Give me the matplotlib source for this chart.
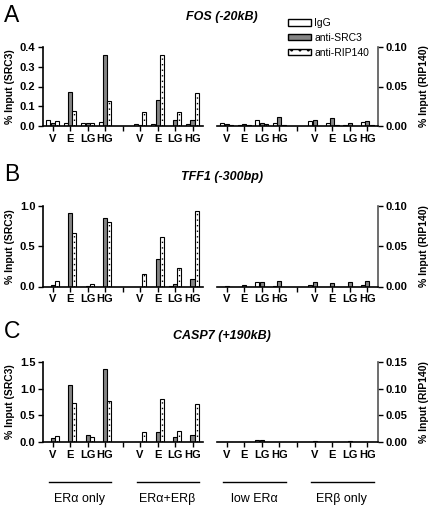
import numpy as np
import matplotlib.pyplot as plt
from matplotlib.patches import Patch
import matplotlib.transforms as mtransforms

plt.rcParams['font.family'] = ['Liberation Sans', 'DejaVu Sans']

treatments = ['V', 'E', 'LG', 'HG']
cell_lines = ['ER\u03b1 only', 'ER\u03b1+ER\u03b2', 'low ER\u03b1', 'ER\u03b2 only']

# values per cell line (ERa only, ERa+ERb, low ERa, ERb only) x treatment (V, E, LG, HG)
# first 8 read on left (SRC3) axis, last 8 on right (RIP140) axis
fos_igg = [0.028, 0.015, 0.017, 0.018, 0.010, 0.012, 0.002, 0.010,
           0.0035, 0.001, 0.0075, 0.004, 0.006, 0.004, 0.001, 0.005]
fos_src3 = [0.017, 0.170, 0.013, 0.357, 0.003, 0.132, 0.032, 0.032,
            0.002, 0.003, 0.004, 0.012, 0.007, 0.010, 0.004, 0.006]
fos_rip = [0.023, 0.077, 0.013, 0.128, 0.073, 0.362, 0.070, 0.165,
           0.001, 0.001, 0.002, 0.001, 0.0, 0.001, 0.0, 0.001]

tff1_igg = [0.0, 0.0, 0.0, 0.0, 0.0, 0.0, 0.005, 0.0,
            0.0, 0.0, 0.005, 0.001, 0.002, 0.0, 0.0, 0.002]
tff1_src3 = [0.020, 0.910, 0.012, 0.855, 0.0, 0.340, 0.033, 0.092,
             0.001, 0.002, 0.005, 0.007, 0.006, 0.004, 0.005, 0.007]
tff1_rip = [0.070, 0.660, 0.025, 0.800, 0.150, 0.620, 0.230, 0.940,
            0.0, 0.0, 0.0, 0.0, 0.0, 0.0, 0.0, 0.0]

casp7_igg = [0.0, 0.005, 0.0, 0.005, 0.0, 0.0, 0.0, 0.0,
             0.0, 0.0, 0.003, 0.0, 0.0, 0.0, 0.0, 0.0]
casp7_src3 = [0.070, 1.070, 0.140, 1.360, 0.0, 0.190, 0.090, 0.130,
              0.0, 0.0, 0.003, 0.0, 0.001, 0.0, 0.002, 0.0]
casp7_rip = [0.110, 0.740, 0.100, 0.760, 0.190, 0.810, 0.200, 0.710,
             0.0, 0.0, 0.0, 0.0, 0.0, 0.0, 0.0, 0.0]

panels = [
    ('A', 'FOS (-20kB)', fos_igg, fos_src3, fos_rip, [0, 0.1, 0.2, 0.3, 0.4], [0, 0.05, 0.10]),
    ('B', 'TFF1 (-300bp)', tff1_igg, tff1_src3, tff1_rip, [0, 0.5, 1.0], [0, 0.05, 0.10]),
    ('C', 'CASP7 (+190kB)', casp7_igg, casp7_src3, casp7_rip, [0, 0.5, 1.0, 1.5], [0, 0.05, 0.10, 0.15]),
]

W, H = 432, 508
fig = plt.figure(figsize=(W / 100, H / 100), dpi=100)

# top/bottom pixel rows of each panel
rows = [(47, 126), (206, 286.5), (362, 442)]
letter_y = [15, 174, 332]
title_y = [17, 177, 336]

xpos = np.array([0, 1, 2, 3, 5, 6, 7, 8])
bw = 0.23
off = 0.25
col_gray = '#858585'


def draw_bars(ax, igg, src3, rip):
    ax.bar(xpos - off, igg, bw, color='white', edgecolor='black', linewidth=0.8)
    ax.bar(xpos, src3, bw, color=col_gray, edgecolor='black', linewidth=0.8)
    ax.bar(xpos + off, rip, bw, color='white', edgecolor='black', linewidth=0.8)
    rip = np.array(rip)
    m = rip > 0
    ax.vlines(xpos[m] + off, 0, rip[m], colors='black', linewidth=1.0,
              linestyles=(0, (1, 3)))


def style_x(ax):
    ax.set_xlim(-0.55, 8.6)
    ax.set_xticks([0, 1, 2, 3, 4, 5, 6, 7, 8])
    ax.set_xticklabels(treatments + [''] + treatments, fontsize=8, fontweight='bold')
    ax.tick_params(axis='x', length=3.5, width=1, pad=2)


for i, (letter, title, igg, src3, rip, lt, rt) in enumerate(panels):
    top, bot = rows[i]
    y0 = 1 - bot / H
    h = (bot - top) / H
    axl = fig.add_axes([43 / W, y0, (203 - 43) / W, h])
    axr = fig.add_axes([217 / W, y0, (378 - 217) / W, h])

    draw_bars(axl, igg[:8], src3[:8], rip[:8])
    draw_bars(axr, igg[8:], src3[8:], rip[8:])

    for ax in (axl, axr):
        style_x(ax)
        for s in ax.spines.values():
            s.set_linewidth(1.2)
        ax.spines['top'].set_visible(False)

    axl.spines['right'].set_visible(False)
    axl.set_ylim(0, lt[-1])
    axl.set_yticks(lt)
    axl.set_yticklabels(['%.1f' % v for v in lt], fontsize=8, fontweight='bold')
    axl.tick_params(axis='y', length=3.5, width=1, pad=2)

    axr.spines['left'].set_visible(False)
    axr.spines['right'].set_color('#555555')
    axr.set_ylim(0, rt[-1])
    axr.yaxis.tick_right()
    axr.set_yticks(rt)
    axr.set_yticklabels(['%.2f' % v for v in rt], fontsize=8, fontweight='bold')
    axr.tick_params(axis='y', length=3.5, width=1, pad=2)

    yc = 1 - (top + bot) / 2 / H
    fig.text(10 / W, yc, '% Input (SRC3)', rotation=90, ha='center', va='center',
             fontsize=7.5, fontweight='bold')
    fig.text(424 / W, yc, '% Input (RIP140)', rotation=90, ha='center', va='center',
             fontsize=7.5, fontweight='bold')
    fig.text(4 / W, 1 - letter_y[i] / H, letter, fontsize=16.5, ha='left', va='center')
    fig.text(222 / W, 1 - title_y[i] / H, title, fontsize=9, fontweight='bold',
             style='italic', ha='center', va='center')

    if i == 2:
        for ax, names in ((axl, cell_lines[:2]), (axr, cell_lines[2:])):
            trans = mtransforms.blended_transform_factory(ax.transData, ax.transAxes)
            for k, name in enumerate(names):
                start = k * 5
                ax.plot([start - 0.2, start + 3.35], [-0.5, -0.5], color='black',
                        linewidth=1, transform=trans, clip_on=False)
                ax.text(start + 1.55, -0.71, name, transform=trans, ha='center',
                        va='center', fontsize=9)

handles = [Patch(facecolor='white', edgecolor='black', linewidth=1, label='IgG'),
           Patch(facecolor=col_gray, edgecolor='black', linewidth=1, label='anti-SRC3'),
           Patch(facecolor='white', edgecolor='black', linewidth=1, hatch='..', label='anti-RIP140')]
fig.legend(handles=handles, loc='upper left', bbox_to_anchor=(284 / W, 1 - 14 / H),
           frameon=False, fontsize=7.5, handlelength=2.2, handleheight=0.55,
           labelspacing=0.45, handletextpad=0.3, borderaxespad=0)

fig.savefig('out.png', dpi=100)
